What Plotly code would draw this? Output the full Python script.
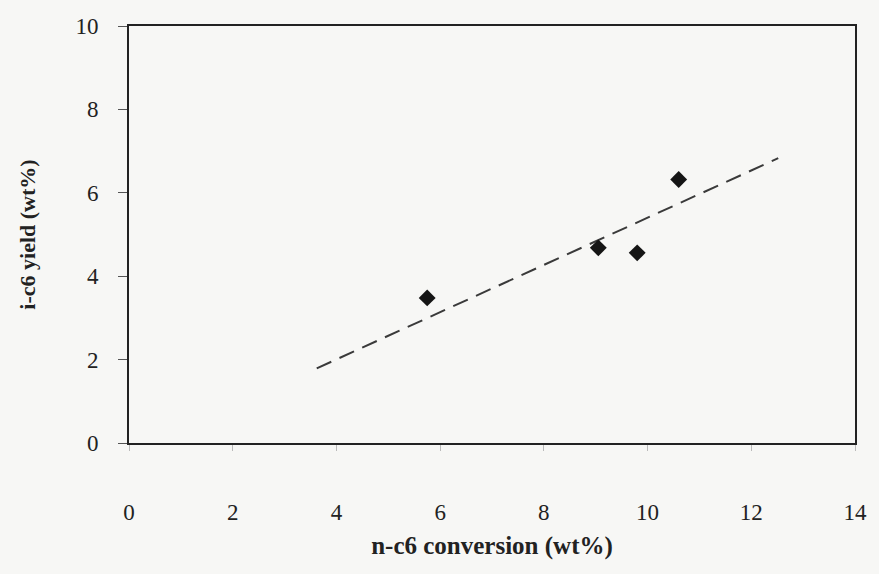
import plotly.graph_objects as go

# Data
conversion = [5.75, 9.05, 9.8, 10.6]      # n-c6 conversion (wt%)
yield_i = [3.48, 4.68, 4.56, 6.32]        # i-c6 yield (wt%)
trend_x = [3.62, 12.52]
trend_y = [1.79, 6.83]
x_ticks = [0, 2, 4, 6, 8, 10, 12, 14]
y_ticks = [0, 2, 4, 6, 8, 10]

FONT = "'Liberation Serif', 'Times New Roman', serif"
INK = "#222222"
BG = "#f7f7f5"

fig = go.Figure()
fig.add_trace(go.Scatter(
    x=trend_x, y=trend_y, mode="lines",
    line=dict(color="#3a3a3a", width=2, dash="16px,9px"),
    showlegend=False, hoverinfo="skip"))
fig.add_trace(go.Scatter(
    x=conversion, y=yield_i, mode="markers",
    marker=dict(symbol="diamond", size=13, color="#151515"),
    showlegend=False))

fig.update_layout(
    width=879, height=574,
    margin=dict(l=129, r=14, t=26, b=131),
    paper_bgcolor=BG, plot_bgcolor=BG,
    font=dict(family=FONT, color=INK),
    xaxis=dict(
        range=[0, 14], tickvals=x_ticks, ticktext=[str(v) for v in x_ticks],
        showgrid=False, zeroline=False,
        showline=True, linecolor=INK, linewidth=2, mirror=True,
        ticks="outside", ticklen=6, tickwidth=1, tickcolor="#bbbbbb",
        tickfont=dict(family=FONT, size=23, color=INK),
        ticklabelstandoff=41,
        title=dict(text="<b>n-c6 conversion (wt%)</b>",
                   font=dict(family=FONT, size=25, color=INK), standoff=13),
    ),
    yaxis=dict(
        range=[0, 10], tickvals=y_ticks, ticktext=[str(v) for v in y_ticks],
        showgrid=False, zeroline=False,
        showline=True, linecolor=INK, linewidth=2, mirror=True,
        ticks="outside", ticklen=9, tickwidth=1, tickcolor="#555555",
        tickfont=dict(family=FONT, size=23, color=INK),
        ticklabelstandoff=15,
        title=dict(text="<b>i-c6 yield (wt%)</b>",
                   font=dict(family=FONT, size=22, color=INK), standoff=34),
    ),
)

fig.write_html("out.html")
